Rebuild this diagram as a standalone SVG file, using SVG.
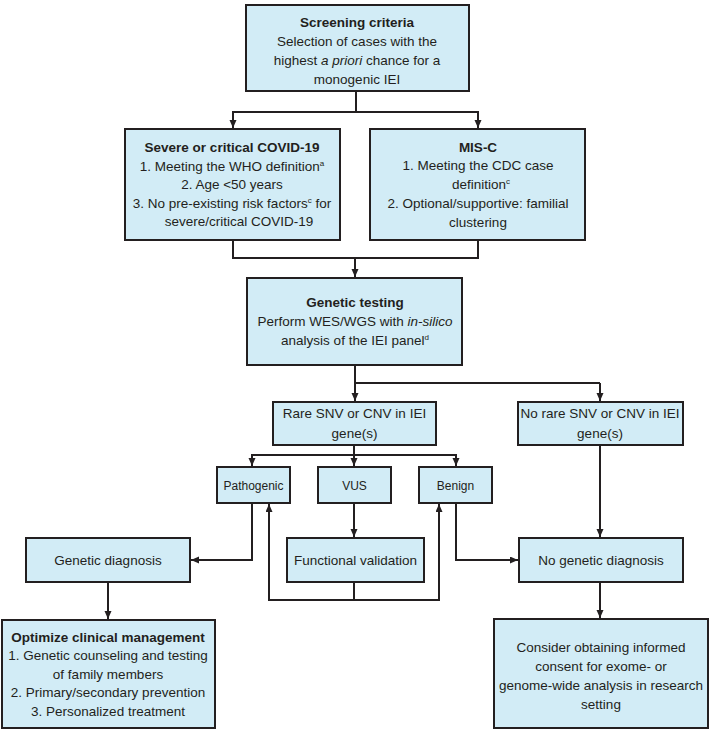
<svg xmlns="http://www.w3.org/2000/svg" width="711" height="729" viewBox="0 0 711 729">
<defs>
<marker id="arr" markerUnits="userSpaceOnUse" markerWidth="9" markerHeight="8" refX="8" refY="3.5" orient="auto">
<path d="M0,0 L8,3.5 L0,7 z" fill="#231f20"/>
</marker>
<style>
.box{fill:#d2ecf6;stroke:#231f20;stroke-width:2}
text{font-family:"Liberation Sans",Arial,sans-serif;font-size:13.5px;fill:#231f20;text-anchor:middle}
.b{font-weight:bold}
.sm{font-size:12px}
.sup{font-size:8px}
.con{fill:none;stroke:#231f20;stroke-width:2}
</style>
</defs>
<rect width="711" height="729" fill="#ffffff"/>
<g id="screening">
<rect class="box" x="246" y="5" width="223" height="86"/>
<text x="357" y="27" class="b">Screening criteria</text>
<text x="357" y="46">Selection of cases with the</text>
<text x="357" y="65">highest <tspan font-style="italic">a priori</tspan> chance for a</text>
<text x="357" y="84">monogenic IEI</text>
</g>
<g id="severe">
<rect class="box" x="125" y="129" width="215" height="111"/>
<text x="232" y="152" class="b">Severe or critical COVID-19</text>
<text x="232" y="171">1. Meeting the WHO definition<tspan class="sup" dy="-5">a</tspan></text>
<text x="232" y="189">2. Age &lt;50 years</text>
<text x="232" y="208">3. No pre-existing risk factors<tspan class="sup" dy="-5">c</tspan><tspan dy="5"> for</tspan></text>
<text x="239" y="226">severe/critical COVID-19</text>
</g>
<g id="misc">
<rect class="box" x="370" y="129" width="215" height="111"/>
<text x="478" y="152" class="b">MIS-C</text>
<text x="478" y="170">1. Meeting the CDC case</text>
<text x="481" y="189">definition<tspan class="sup" dy="-5">c</tspan></text>
<text x="478" y="208">2. Optional/supportive: familial</text>
<text x="478" y="227">clustering</text>
</g>
<g id="genetic-testing">
<rect class="box" x="247" y="278" width="215" height="87"/>
<text x="355" y="307" class="b">Genetic testing</text>
<text x="355" y="326">Perform WES/WGS with <tspan font-style="italic">in-silico</tspan></text>
<text x="355" y="345">analysis of the IEI panel<tspan class="sup" dy="-5">d</tspan></text>
</g>
<g id="rare">
<rect class="box" x="273" y="402" width="163" height="43"/>
<text x="354.5" y="418">Rare SNV or CNV in IEI</text>
<text x="354.5" y="438">gene(s)</text>
</g>
<g id="norare">
<rect class="box" x="518" y="402" width="165" height="43"/>
<text x="600" y="418">No rare SNV or CNV in IEI</text>
<text x="600" y="438">gene(s)</text>
</g>
<g id="pathogenic">
<rect class="box" x="217" y="467" width="73" height="36"/>
<text x="253.5" y="489.5" class="sm">Pathogenic</text>
</g>
<g id="vus">
<rect class="box" x="318" y="467" width="73" height="36"/>
<text x="354.5" y="489.5" class="sm">VUS</text>
</g>
<g id="benign">
<rect class="box" x="419" y="467" width="73" height="36"/>
<text x="455.5" y="489.5" class="sm">Benign</text>
</g>
<g id="functional">
<rect class="box" x="287" y="538" width="137" height="44"/>
<text x="355.5" y="565">Functional validation</text>
</g>
<g id="genetic-diagnosis">
<rect class="box" x="26" y="538" width="164" height="44"/>
<text x="108" y="565">Genetic diagnosis</text>
</g>
<g id="no-genetic-diagnosis">
<rect class="box" x="519" y="538" width="164" height="44"/>
<text x="601" y="565">No genetic diagnosis</text>
</g>
<g id="optimize">
<rect class="box" x="2" y="620" width="213" height="108"/>
<text x="108" y="642" class="b">Optimize clinical management</text>
<text x="108" y="660">1. Genetic counseling and testing</text>
<text x="108" y="679">of family members</text>
<text x="108" y="697">2. Primary/secondary prevention</text>
<text x="108" y="716">3. Personalized treatment</text>
</g>
<g id="consider">
<rect class="box" x="494" y="619" width="214" height="109"/>
<text x="601" y="652">Consider obtaining informed</text>
<text x="601" y="671">consent for exome- or</text>
<text x="601" y="690">genome-wide analysis in research</text>
<text x="601" y="709">setting</text>
</g>
<g id="connectors">
<path class="con" d="M356,91 V112 M232,112 H479"/>
<path class="con" d="M233,112 V128" marker-end="url(#arr)"/>
<path class="con" d="M478,112 V128" marker-end="url(#arr)"/>
<path class="con" d="M233,240 V258 H478 V240"/>
<path class="con" d="M355,258 V277" marker-end="url(#arr)"/>
<path class="con" d="M355,365 V383 H600"/>
<path class="con" d="M355,383 V401" marker-end="url(#arr)"/>
<path class="con" d="M600,383 V401" marker-end="url(#arr)"/>
<path class="con" d="M354,445 V455 M251,455 H457"/>
<path class="con" d="M252,455 V466" marker-end="url(#arr)"/>
<path class="con" d="M354,455 V466" marker-end="url(#arr)"/>
<path class="con" d="M456,455 V466" marker-end="url(#arr)"/>
<path class="con" d="M354,503 V537" marker-end="url(#arr)"/>
<path class="con" d="M252,503 V560 H191" marker-end="url(#arr)"/>
<path class="con" d="M456,503 V560 H518" marker-end="url(#arr)"/>
<path class="con" d="M354,582 V600 M268,600 H440"/>
<path class="con" d="M269,600 V504" marker-end="url(#arr)"/>
<path class="con" d="M439,600 V504" marker-end="url(#arr)"/>
<path class="con" d="M600,445 V537" marker-end="url(#arr)"/>
<path class="con" d="M108,582 V619" marker-end="url(#arr)"/>
<path class="con" d="M600,582 V618" marker-end="url(#arr)"/>
</g>
</svg>
